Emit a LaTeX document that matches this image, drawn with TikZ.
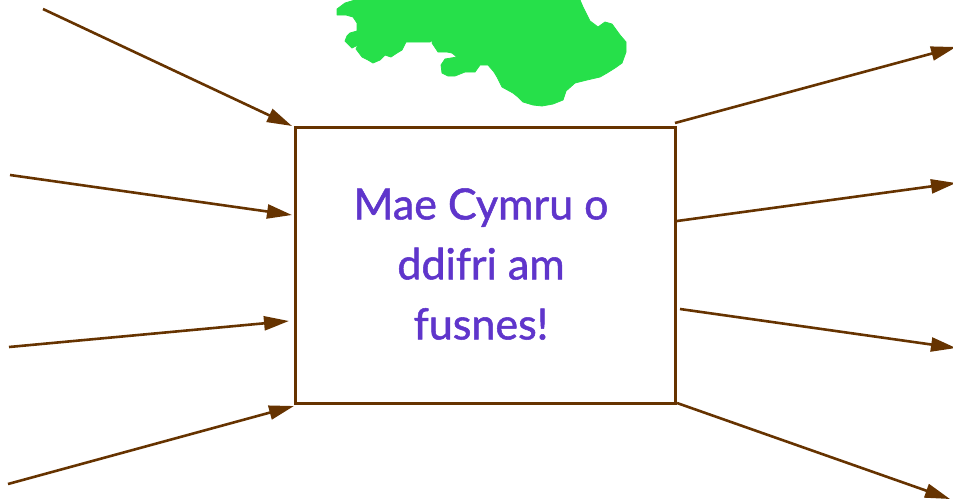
\documentclass[tikz,border=0pt]{standalone}
\usepackage{fontspec}
\setmainfont[FakeBold=1.2]{Lato}
\usetikzlibrary{arrows.meta}
\definecolor{brownline}{HTML}{663300}
\definecolor{mapgreen}{HTML}{26E04A}
\definecolor{textviolet}{HTML}{5F35CB}
\tikzset{
  flow/.style={draw=brownline,line width=2.6pt,-{Triangle[length=25pt,width=14pt]}},
  mainbox/.style={draw=brownline,line width=3pt,minimum width=380pt,minimum height=276pt,inner sep=0pt,anchor=center},
  caption/.style={text=textviolet,font=\fontsize{43}{60}\selectfont,align=center},
}
\begin{document}
\begin{tikzpicture}[x=1pt,y=-1pt]
\useasboundingbox (0,0) rectangle (953,499);
\clip (0,0) rectangle (953,499);
\fill[mapgreen,draw=mapgreen,line width=0.8pt,line join=round] (355,0) -- (345,3) -- (337,9) -- (337,15) -- (346,15) -- (353,17) -- (357,23) -- (357,31) -- (350,33) -- (347,36) -- (345,41) -- (352,48) -- (358,45) -- (356,49) -- (362,57) -- (368,60) -- (373,63) -- (380,60) -- (385,55) -- (391,57) -- (397,53) -- (402,50) -- (406,42) -- (430,42) -- (433,40) -- (432,43) -- (438,52) -- (447,52) -- (452,53) -- (457,57) -- (445,59) -- (441,65) -- (442,73) -- (448,76) -- (455,76) -- (465,72) -- (475,72) -- (480,65) -- (488,65) -- (494,72) -- (497,77) -- (502,87) -- (513,93) -- (518,97) -- (523,102) -- (533,105) -- (542,106) -- (553,104) -- (563,100) -- (566,91) -- (575,83) -- (587,80) -- (600,77) -- (607,73) -- (615,68) -- (622,63) -- (626,52) -- (626,42) -- (620,35) -- (612,24) -- (605,22) -- (598,27) -- (590,21) -- (583,7) -- (580,0) -- cycle;
\node[mainbox] (box) at (485,265) {};
\node[caption] (label) at (481,264) {Mae Cymru o\\ddifri am\\fusnes!};
\coordinate (a1) at (43,9);    \coordinate (t1) at (292,126);
\coordinate (a2) at (10,175);  \coordinate (t2) at (292,215);
\coordinate (a3) at (9,347);   \coordinate (t3) at (289,321);
\coordinate (a4) at (8,484);   \coordinate (t4) at (294,406);
\coordinate (b1) at (675,123); \coordinate (e1) at (956,47);
\coordinate (b2) at (677,221); \coordinate (e2) at (956,183);
\coordinate (b3) at (680,309); \coordinate (e3) at (956,348);
\coordinate (b4) at (677,403); \coordinate (e4) at (950,499);
\foreach \s/\e in {a1/t1,a2/t2,a3/t3,a4/t4,b1/e1,b2/e2,b3/e3,b4/e4}
  \draw[flow] (\s) -- (\e);
\end{tikzpicture}
\end{document}
